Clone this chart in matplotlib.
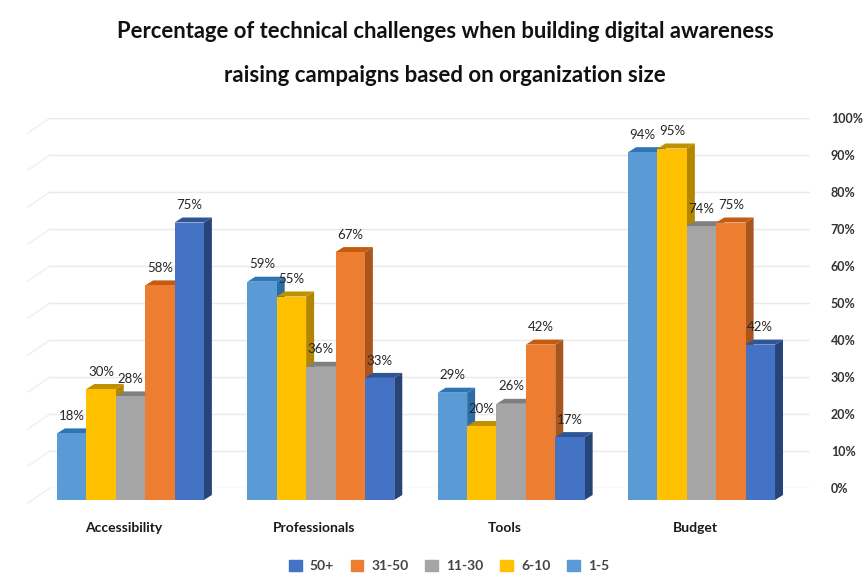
# -*- coding: utf-8 -*-
"""
Technical challenges by organization size, drawn as a fake 3D column chart
"""
import matplotlib
matplotlib.use("Agg")
import matplotlib.pyplot as plt
from matplotlib.patches import Patch

plt.rcParams['font.family'] = ['Lato', 'DejaVu Sans']

CATEGORIES = ["Accessibility", "Professionals", "Tools", "Budget"]
SIZES = ["1-5", "6-10", "11-30", "31-50", "50+"]

SIZE_1_5 = [18, 59, 29, 94]
SIZE_6_10 = [30, 55, 20, 95]
SIZE_11_30 = [28, 36, 26, 74]
SIZE_31_50 = [58, 67, 42, 75]
SIZE_50_PLUS = [75, 33, 17, 42]
SERIES = [SIZE_1_5, SIZE_6_10, SIZE_11_30, SIZE_31_50, SIZE_50_PLUS]

WALL_TICKS = [0, 10, 20, 30, 40, 50, 60, 70, 80, 90, 100]

FRONT_COLORS = ["#5B9BD5", "#FFC000", "#A5A5A5", "#ED7D31", "#4472C4"]
TOP_COLORS = ["#2E75B6", "#BF9000", "#7F7F7F", "#C55A11", "#2F5597"]
SIDE_COLORS = ["#2E6CA4", "#B38600", "#7B7B7B", "#A9561E", "#264478"]

WIDTH, HEIGHT = 864, 576
PX_PER_PERCENT = 3.7
PX_PER_GROUP = 190.5
BAR_PX = 29.4
DEPTH_X_PX = 8
DEPTH_Y_PX = 5


def px_axes(fig, left, right, top, bottom):
    """Add an axes given its edges in image pixels"""
    return fig.add_axes([left / WIDTH, 1 - bottom / HEIGHT,
                         (right - left) / WIDTH, (bottom - top) / HEIGHT])


fig = plt.figure(figsize=(WIDTH / 100, HEIGHT / 100), dpi=100)

# back wall: gridlines and the percent scale on the right
wall = px_axes(fig, 50, 810, 118, 488)
wall.set_xlim(0, 1)
wall.set_ylim(0, 100)
wall.patch.set_visible(False)
for tick in WALL_TICKS:
    wall.plot([0, 1], [tick, tick], color="#EAEAEA", lw=1, zorder=1)
    wall.plot([-22 / 760, 0], [tick - 15 / PX_PER_PERCENT, tick], color="#EFEFEF", lw=1, clip_on=False)
wall.yaxis.tick_right()
wall.set_yticks(WALL_TICKS)
wall.set_yticklabels([f"{t}%" for t in WALL_TICKS], fontsize=9, fontweight="bold", color="#333333")
wall.tick_params(axis="y", length=0, pad=15)
wall.set_xticks([])
for spine in wall.spines.values():
    spine.set_visible(False)

# columns sit in front of the wall
ax = px_axes(fig, 35.25, 796.75, 130, 500)
ax.set_xlim(-0.5, 3.5)
ax.set_ylim(0, 100)
ax.axis("off")

bar_w = BAR_PX / PX_PER_GROUP
dx = DEPTH_X_PX / PX_PER_GROUP
dy = DEPTH_Y_PX / PX_PER_PERCENT

for c in range(len(CATEGORIES)):
    for s, values in enumerate(SERIES):
        val = values[c]
        left = c + (s - 2.5) * bar_w
        right = left + bar_w
        ax.fill([right, right + dx, right + dx, right],
                [0, dy, val + dy, val], color=SIDE_COLORS[s], lw=0, zorder=2 + s, clip_on=False)
        ax.fill([left, left + dx, right + dx, right],
                [val, val + dy, val + dy, val], color=TOP_COLORS[s], lw=0, zorder=2 + s, clip_on=False)
        ax.bar(left, val, width=bar_w, align="edge", color=FRONT_COLORS[s], lw=0, zorder=2 + s)

# labels go on last so the neighbouring columns don't hide them
for c in range(len(CATEGORIES)):
    for s, values in enumerate(SERIES):
        ax.annotate(f"{values[c]}%", xy=(c + (s - 2) * bar_w, values[c]), xytext=(0, 12.5),
                    textcoords="offset points", ha="center", va="center", fontsize=9.5,
                    color="#262626", zorder=10, annotation_clip=False)
    ax.annotate(CATEGORIES[c], xy=(c, 0), xytext=(-4.5, -20), textcoords="offset points",
                ha="center", va="center", fontsize=10, fontweight="bold", color="#1A1A1A",
                annotation_clip=False)

fig.text(445 / WIDTH, 1 - 32 / HEIGHT, "Percentage of technical challenges when building digital awareness",
         ha="center", va="center", fontsize=15.8, fontweight="bold", color="#111111")
fig.text(445 / WIDTH, 1 - 76 / HEIGHT, "raising campaigns based on organization size",
         ha="center", va="center", fontsize=16, fontweight="bold", color="#111111")

handles = [Patch(color=FRONT_COLORS[s], label=SIZES[s]) for s in reversed(range(len(SIZES)))]
fig.legend(handles=handles, loc="center", bbox_to_anchor=(449 / WIDTH, 1 - 566 / HEIGHT), ncol=5,
           frameon=False, handlelength=0.9, handleheight=0.9, handletextpad=0.6,
           columnspacing=1.2, labelcolor="#444444", prop={"weight": "bold", "size": 10})

fig.savefig("out.png", dpi=100)
